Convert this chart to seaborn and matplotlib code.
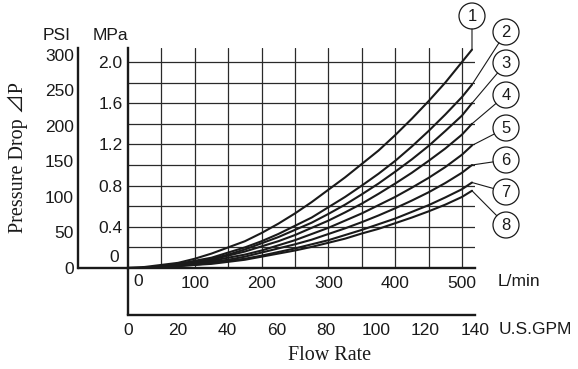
import numpy as np
import pandas as pd
import matplotlib
matplotlib.use("Agg")
import matplotlib.pyplot as plt
import seaborn as sns
from matplotlib.patches import Circle
from matplotlib.lines import Line2D

# ---------------- data ----------------
flow_lpm = [0, 25, 50, 75, 100, 125, 150, 175, 200, 225, 250, 275, 300,
            325, 350, 375, 400, 425, 450, 475, 500, 515]
curve_1 = [0, 0.01, 0.03, 0.05, 0.09, 0.14, 0.20, 0.26, 0.34, 0.43, 0.53, 0.64,
           0.76, 0.88, 1.01, 1.14, 1.29, 1.45, 1.62, 1.80, 2.00, 2.12]
curve_2 = [0, 0.00, 0.02, 0.04, 0.07, 0.10, 0.15, 0.20, 0.26, 0.33, 0.41, 0.49,
           0.59, 0.69, 0.80, 0.915, 1.04, 1.18, 1.33, 1.49, 1.66, 1.78]
curve_3 = [0, 0.00, 0.02, 0.03, 0.06, 0.09, 0.13, 0.18, 0.24, 0.30, 0.37, 0.44,
           0.525, 0.615, 0.715, 0.82, 0.935, 1.055, 1.185, 1.33, 1.48, 1.60]
curve_4 = [0, 0.00, 0.01, 0.03, 0.05, 0.08, 0.12, 0.16, 0.21, 0.26, 0.32, 0.39,
           0.46, 0.54, 0.625, 0.72, 0.82, 0.925, 1.04, 1.16, 1.295, 1.40]
curve_5 = [0, 0.00, 0.01, 0.02, 0.04, 0.07, 0.10, 0.13, 0.17, 0.22, 0.27, 0.33,
           0.39, 0.46, 0.53, 0.61, 0.69, 0.78, 0.875, 0.98, 1.10, 1.19]
curve_6 = [0, 0.00, 0.01, 0.02, 0.04, 0.06, 0.08, 0.11, 0.15, 0.19, 0.23, 0.275,
           0.33, 0.385, 0.445, 0.51, 0.58, 0.655, 0.735, 0.825, 0.925, 1.00]
curve_7 = [0, 0.00, 0.01, 0.02, 0.03, 0.05, 0.07, 0.09, 0.12, 0.155, 0.19, 0.23,
           0.27, 0.32, 0.37, 0.425, 0.48, 0.545, 0.61, 0.685, 0.765, 0.83]
curve_8 = [0, 0.00, 0.01, 0.02, 0.03, 0.04, 0.06, 0.08, 0.11, 0.14, 0.17, 0.205,
           0.245, 0.285, 0.335, 0.38, 0.435, 0.49, 0.55, 0.615, 0.69, 0.75]
curves = [curve_1, curve_2, curve_3, curve_4, curve_5, curve_6, curve_7, curve_8]
curve_labels = ["1", "2", "3", "4", "5", "6", "7", "8"]

mpa_ticks = [0.4, 0.8, 1.2, 1.6, 2.0]
mpa_labels = ["0.4", "0.8", "1.2", "1.6", "2.0"]
psi_ticks = [0, 50, 100, 150, 200, 250, 300]
psi_labels = ["0", "50", "100", "150", "200", "250", "300"]
lpm_ticks = [100, 200, 300, 400, 500]
lpm_labels = ["100", "200", "300", "400", "500"]
gpm_ticks = [0, 20, 40, 60, 80, 100, 120, 140]
gpm_labels = ["0", "20", "40", "60", "80", "100", "120", "140"]
MPA_PER_PSI = 0.00689476

# ---------------- style ----------------
sns.set_theme(style="white")
plt.rcParams["font.family"] = ["Liberation Sans", "DejaVu Sans"]
SANS = 12.5
INK = "#1a1a1a"

W, H = 578, 369
fig = plt.figure(figsize=(W / 100, H / 100), dpi=100)
fig.patch.set_facecolor("white")


def fx(px):
    return px / W


def fy(py):
    return 1 - py / H


X0, X1 = 128, 475
Y0, Y1 = 268, 48
ax = fig.add_axes([fx(X0), fy(Y0), fx(X1) - fx(X0), fy(Y1) - fy(Y0)])
ax.patch.set_alpha(0)

rows = []
for lab, vals in zip(curve_labels, curves):
    for f, v in zip(flow_lpm, vals):
        rows.append({"flow": f, "dp": v, "curve": lab})
df = pd.DataFrame(rows)
sns.lineplot(data=df, x="flow", y="dp", units="curve", estimator=None,
             color=INK, lw=1.5, ax=ax, legend=False, zorder=3)

ax.set_xlim(0, 519.5)
ax.set_ylim(0, 2.136)
ax.set_xlabel("")
ax.set_ylabel("")
ax.set_xticks(lpm_ticks)
ax.set_xticklabels(lpm_labels, fontsize=SANS)
ax.set_xticks([50, 150, 250, 350, 450], minor=True)
ax.set_yticks(mpa_ticks)
ax.set_yticklabels(mpa_labels, fontsize=SANS)
ax.set_yticks([0.2, 0.6, 1.0, 1.4, 1.8], minor=True)
ax.grid(True, which="both", color="#2a2a2a", lw=0.9)
ax.set_axisbelow(True)
ax.tick_params(which="both", length=0)
ax.tick_params(axis="x", pad=6, colors=INK)
ax.tick_params(axis="y", pad=4, colors=INK)
for s in ["top", "right"]:
    ax.spines[s].set_visible(False)
for s in ["left", "bottom"]:
    ax.spines[s].set_color(INK)
    ax.spines[s].set_linewidth(1.7)

# PSI axis
ax_psi = fig.add_axes([fx(78), fy(Y0), 0.0001, fy(Y1) - fy(Y0)])
ax_psi.patch.set_visible(False)
ax_psi.set_ylim(0, 2.136 / MPA_PER_PSI)
ax_psi.set_yticks(psi_ticks)
ax_psi.set_yticklabels(psi_labels, fontsize=SANS)
ax_psi.set_xticks([])
ax_psi.tick_params(axis="y", direction="in", length=7, width=1.2, pad=3, colors=INK)
for s in ["top", "right", "bottom"]:
    ax_psi.spines[s].set_visible(False)
ax_psi.spines["left"].set_color(INK)
ax_psi.spines["left"].set_linewidth(1.7)

# GPM axis
G = 315
ax_g = fig.add_axes([fx(X0), fy(G), fx(X1) - fx(X0), 0.0001])
ax_g.patch.set_visible(False)
ax_g.set_xlim(0, 140)
ax_g.set_xticks(gpm_ticks)
ax_g.set_xticklabels(gpm_labels, fontsize=SANS)
ax_g.set_yticks([])
ax_g.tick_params(axis="x", direction="in", length=8, width=1.2, pad=6, colors=INK)
for s in ["top", "right", "left"]:
    ax_g.spines[s].set_visible(False)
ax_g.spines["bottom"].set_color(INK)
ax_g.spines["bottom"].set_linewidth(1.7)

# overlay in pixel coordinates
axo = fig.add_axes([0, 0, 1, 1])
axo.set_xlim(0, W)
axo.set_ylim(H, 0)
axo.axis("off")
axo.patch.set_visible(False)

axo.add_line(Line2D([X0, X0], [Y0, G], color=INK, lw=1.7))
axo.add_line(Line2D([78, X0], [Y0, Y0], color=INK, lw=1.7))

axo.text(57, 36, "PSI", fontsize=SANS, ha="center", va="center", color=INK)
axo.text(110, 36, "MPa", fontsize=SANS, ha="center", va="center", color=INK)
axo.text(114, 257, "0", fontsize=SANS, ha="center", va="center", color=INK)
axo.text(138.5, 282, "0", fontsize=SANS, ha="center", va="center", color=INK)
axo.text(498, 282, "L/min", fontsize=SANS, ha="left", va="center", color=INK)
axo.text(499, 330, "U.S.GPM", fontsize=SANS, ha="left", va="center", color=INK)
axo.text(330, 355, "Flow Rate", fontsize=14.5, ha="center", va="center",
         family=["Liberation Serif", "DejaVu Serif"], color=INK)
axo.text(18, 158, "Pressure Drop \u22bfP", fontsize=14.5, ha="center", va="center",
         rotation=90, family=["Liberation Serif", "Noto Sans CJK JP", "DejaVu Sans"],
         color=INK)

# numbered circles with leaders
circle_pos = [(472, 16), (506, 32), (506, 63), (506, 95), (506, 128),
              (506, 160), (506, 192), (506, 225)]
R = 13
for lab, vals, (cx, cy) in zip(curve_labels, curves, circle_pos):
    dx, dy = ax.transData.transform((flow_lpm[-1], vals[-1]))
    ex, ey = dx, H - dy
    vx, vy = ex - cx, ey - cy
    n = np.hypot(vx, vy)
    bx, by = cx + vx / n * R, cy + vy / n * R
    axo.add_line(Line2D([ex, bx], [ey, by], color=INK, lw=0.8))
    axo.add_patch(Circle((cx, cy), R, facecolor="white", edgecolor=INK, lw=0.9))
    axo.text(cx, cy + 0.5, lab, fontsize=12, ha="center", va="center", color=INK)

fig.savefig("out.png", dpi=100)
